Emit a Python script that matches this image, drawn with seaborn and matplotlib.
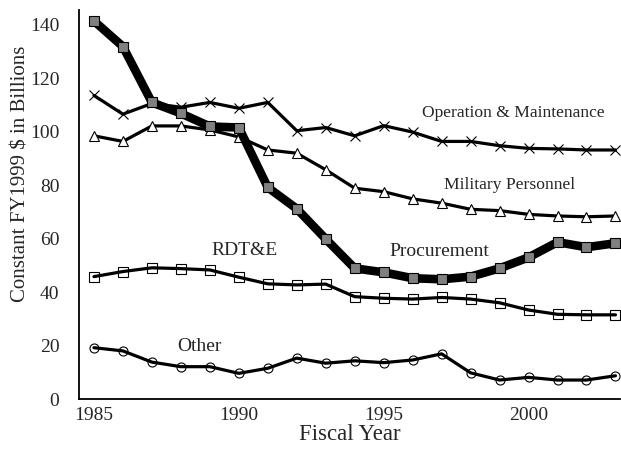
import numpy as np
import pandas as pd
import seaborn as sns
import matplotlib.pyplot as plt

years = list(range(1985, 2004))

procurement = [141.5, 131.9, 111.0, 106.9, 102.0, 101.6, 79.2, 71.2, 59.9, 48.9,
               47.4, 45.2, 44.8, 45.8, 48.9, 53.0, 58.7, 56.8, 58.3]
operation_maintenance = [113.6, 106.6, 110.6, 109.2, 111.0, 108.8, 111.0, 100.4, 101.6, 98.5,
                         102.3, 99.9, 96.4, 96.4, 94.8, 93.8, 93.6, 93.2, 93.2]
military_personnel = [98.5, 96.4, 102.2, 102.2, 100.7, 98.1, 93.2, 92.0, 85.8, 78.9,
                      77.6, 74.9, 73.3, 71.0, 70.5, 69.1, 68.5, 68.2, 68.5]
rdte = [45.8, 47.7, 49.1, 48.8, 48.3, 45.6, 43.1, 42.7, 43.0, 38.3,
        37.7, 37.4, 38.0, 37.4, 36.0, 33.3, 31.7, 31.5, 31.5]
other = [19.2, 18.0, 13.8, 12.1, 12.1, 9.6, 11.5, 15.3, 13.4, 14.3,
         13.6, 14.6, 16.9, 9.8, 7.1, 8.1, 7.1, 7.1, 8.7]

year_labels = ["1985", "1990", "1995", "2000"]
y_ticks = [0, 20, 40, 60, 80, 100, 120, 140]

sns.set_style("white")
plt.rcParams['font.family'] = ['Liberation Serif', 'DejaVu Serif']

fig = plt.figure(figsize=(6.21, 4.53), dpi=100)
ax = fig.add_axes([0.127, 0.1192, 0.872, 0.8588])

# thin series first, procurement on top
series = [
    (operation_maintenance, dict(marker='x', mfc='none', mec='black', ms=7, mew=0.8, lw=2.3)),
    (military_personnel, dict(marker='^', mfc='white', mec='black', ms=7, mew=0.8, lw=2.3)),
    (rdte, dict(marker='s', mfc='none', mec='black', ms=6.5, mew=0.8, lw=2.3)),
    (other, dict(marker='o', mfc='none', mec='black', ms=6.5, mew=0.8, lw=2.3)),
    (procurement, dict(marker='s', mfc='#808080', mec='black', ms=7.5, mew=0.8, lw=6.2)),
]
for values, style in series:
    df = pd.DataFrame({"year": years, "value": values})
    sns.lineplot(data=df, x="year", y="value", ax=ax, color='black', **style)

ax.set_xlim(1984.48, 2003.17)
ax.set_ylim(0, 145.6)

ax.set_xticks(years)
ax.set_xticklabels([str(y) if str(y) in year_labels else "" for y in years])
ax.set_yticks(y_ticks)
ax.tick_params(axis='x', direction='inout', length=8, width=1.2, labelsize=14, pad=2)
ax.tick_params(axis='y', length=0, labelsize=14, pad=14)

for side in ['top', 'right']:
    ax.spines[side].set_visible(False)
for side in ['left', 'bottom']:
    ax.spines[side].set_color('black')
    ax.spines[side].set_linewidth(1.3)

ax.set_xlabel("Fiscal Year", fontsize=16.5, labelpad=0)
ax.set_ylabel("Constant FY1999 $ in Billions", fontsize=15)
ax.yaxis.set_label_coords(-0.09, 0.58)

ax.text(1999.48, 107.2, "Operation & Maintenance", fontsize=12.6, ha='center', va='center')
ax.text(1999.33, 80.1, "Military Personnel", fontsize=12.6, ha='center', va='center')
ax.text(1996.93, 55.1, "Procurement", fontsize=14, ha='center', va='center')
ax.text(1990.2, 55.5, "RDT&E", fontsize=14, ha='center', va='center')
ax.text(1988.64, 19.6, "Other", fontsize=14, ha='center', va='center')

plt.savefig("out.png", dpi=100)
plt.close()
